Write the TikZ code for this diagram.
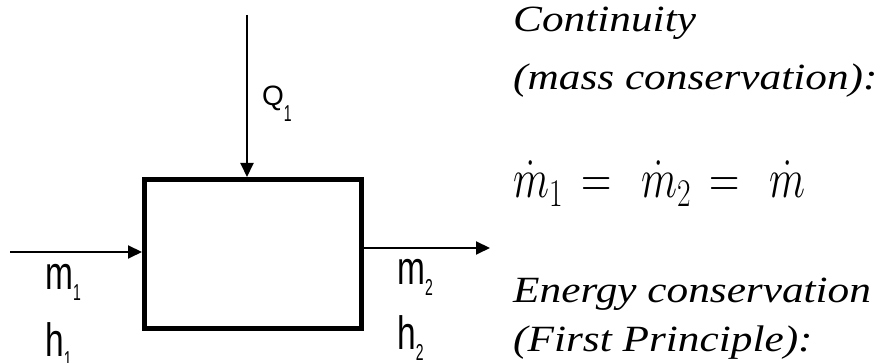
\RequirePackage{fix-cm}
\documentclass[tikz,border=0pt]{standalone}
\usepackage[no-math]{fontspec}
\usepackage{amsmath}
\usepackage{graphicx}
\setmainfont{Liberation Serif}
\newfontfamily\cvsans{Liberation Sans}
\usetikzlibrary{arrows.meta,calc}
\definecolor{cvink}{HTML}{000000}
\newcommand{\cvsub}[1]{\raisebox{-11pt}{\fontsize{20}{20}\selectfont\scalebox{0.7}[1.15]{#1}}}
\newcommand{\flowvar}[2]{\scalebox{0.93}[1.3]{#1}\cvsub{#2}}
\newcommand{\heatvar}[2]{{\fontsize{28}{28}\selectfont #1}\raisebox{-5pt}{\cvsub{#2}}}
\newcommand{\wideit}[1]{\scalebox{1.17}[1]{#1}}
\tikzset{
  cvbox/.style={draw=cvink, line width=5pt, minimum width=217pt, minimum height=149pt,
                inner sep=0pt},
  cvflow/.style={-{Triangle[length=14pt,width=13pt]}, draw=cvink, line width=2pt},
  cvvar/.style={font=\cvsans\fontsize{36}{36}\selectfont, text=cvink, inner sep=0pt,
                anchor=base west},
  cvtext/.style={font=\fontsize{37}{37}\selectfont\itshape, text=cvink, inner sep=0pt,
                 anchor=base west},
}

\begin{document}
\begin{tikzpicture}[x=1pt,y=1pt]
  \useasboundingbox (0,0) rectangle (892,363);
  % control volume
  \node[cvbox] (cv) at (253,109) {};
  \coordinate (qtop) at (247,348);
  \coordinate (inl) at (10,111);
  \coordinate (outr) at (490,115);
  \draw[cvflow] (qtop) -- (qtop |- cv.north);
  \draw[cvflow] (inl) -- (inl -| cv.west);
  \draw[cvflow] (outr -| cv.east) -- (outr);

  \node[cvvar] (q1) at (262,257) {\heatvar{Q}{1}};
  \node[cvvar] (m1) at (45,73)  {\flowvar{m}{1}};
  \node[cvvar] (h1) at (45,6)   {\flowvar{h}{1}};
  \node[cvvar] (m2) at (397,78) {\flowvar{m}{2}};
  \node[cvvar] (h2) at (397,13) {\flowvar{h}{2}};

  % balances
  \node[cvtext] (cont) at (513,331) {\wideit{Continuity}};
  \node[cvtext] (mass) at (513,273) {\wideit{(mass conservation):}};
  \node[inner sep=0pt, anchor=base west, font=\fontsize{40}{40}\selectfont] (eq) at (513,165)
    {\scalebox{1.05}[1.4]{$\dot m_1 \,=\,\ \dot m_2 \,=\,\ \dot m$}};
  \node[cvtext] (ener) at (513,60) {\wideit{Energy conservation}};
  \node[cvtext] (first) at (513,11) {\wideit{(First Principle):}};
\end{tikzpicture}
\end{document}
